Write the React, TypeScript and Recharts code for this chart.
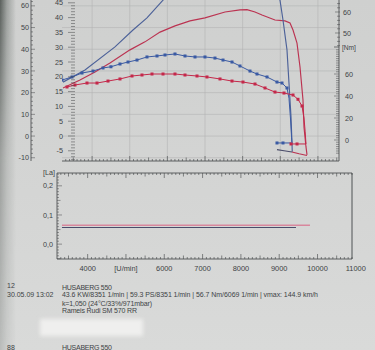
import React from "react";
import { ComposedChart, Line, XAxis, YAxis, CartesianGrid } from "recharts";

const FONT = "'Liberation Sans', Arial, Helvetica, sans-serif";
const INK = "#404345";
const GRID = "#b2b4b3";
const RED = "#bb3351";
const BLUE = "#4d6299";
const RED_DOT = "#c4284a";
const BLUE_DOT = "#3a5aa3";
const PINK = "#d8879d";
const NAVY = "#4a4c6a";

// run 12 (red) and run 88 (blue)
const power12 = [
  { rpm: 3227, kw: 16.2 }, { rpm: 3678, kw: 18.9 }, { rpm: 4077, kw: 21.6 }, { rpm: 4475, kw: 24.7 },
  { rpm: 5007, kw: 29.1 }, { rpm: 5405, kw: 31.8 }, { rpm: 5804, kw: 35.1 }, { rpm: 6202, kw: 37.2 },
  { rpm: 6601, kw: 38.9 }, { rpm: 6999, kw: 39.9 }, { rpm: 7531, kw: 41.9 }, { rpm: 7929, kw: 42.6 },
  { rpm: 8115, kw: 42.7 }, { rpm: 8328, kw: 41.9 }, { rpm: 8514, kw: 40.9 }, { rpm: 8859, kw: 39.2 },
  { rpm: 9125, kw: 38.9 }, { rpm: 9258, kw: 38.2 }, { rpm: 9338, kw: 35.8 }, { rpm: 9444, kw: 31.4 },
  { rpm: 9524, kw: 23.3 }, { rpm: 9603, kw: 12.2 }, { rpm: 9630, kw: 3.0 }, { rpm: 9683, kw: -3.7 },
  { rpm: 9710, kw: -6.4 },
];

const power88 = [
  { rpm: 3227, kw: 18.2 }, { rpm: 3811, kw: 22.3 }, { rpm: 4608, kw: 30.1 }, { rpm: 5086, kw: 35.8 },
  { rpm: 5458, kw: 39.9 }, { rpm: 5884, kw: 45.9 }, { rpm: 6250, kw: 50.5 }, { rpm: 6750, kw: 53.5 },
  { rpm: 7250, kw: 56 }, { rpm: 7700, kw: 57 }, { rpm: 8150, kw: 55 }, { rpm: 8600, kw: 51 },
  { rpm: 8992, kw: 45.9 }, { rpm: 9072, kw: 39.2 }, { rpm: 9178, kw: 29.1 }, { rpm: 9231, kw: 17.9 },
  { rpm: 9285, kw: 6.4 }, { rpm: 9311, kw: -2.4 }, { rpm: 9318, kw: -5.3 },
];

const coast88 = [{ rpm: 8912, kw: -4.6 }, { rpm: 9100, kw: -5.0 }, { rpm: 9311, kw: -5.4 }];
const coast12 = [{ rpm: 9311, kw: -5.4 }, { rpm: 9500, kw: -6.0 }, { rpm: 9710, kw: -6.6 }];

const torque88 = [
  { rpm: 3200, nm: 54.5 }, { rpm: 3466, nm: 57.3 }, { rpm: 3731, nm: 60.9 }, { rpm: 4024, nm: 62.7 },
  { rpm: 4289, nm: 65.5 }, { rpm: 4500, nm: 66.6 }, { rpm: 4741, nm: 69.1 }, { rpm: 4954, nm: 70.9 },
  { rpm: 5193, nm: 72.7 }, { rpm: 5458, nm: 75.5 }, { rpm: 5724, nm: 76.4 }, { rpm: 5937, nm: 77.3 },
  { rpm: 6202, nm: 78.2 }, { rpm: 6468, nm: 76.4 }, { rpm: 6734, nm: 75.5 }, { rpm: 6999, nm: 75.5 },
  { rpm: 7265, nm: 74.5 }, { rpm: 7478, nm: 72.7 }, { rpm: 7717, nm: 70.9 }, { rpm: 7929, nm: 67.3 },
  { rpm: 8195, nm: 62.7 }, { rpm: 8381, nm: 60.0 }, { rpm: 8647, nm: 57.3 }, { rpm: 8912, nm: 52.7 },
  { rpm: 9045, nm: 51.8 }, { rpm: 9178, nm: 47.3 },
];
const torque88Drop = [
  { rpm: 9178, nm: 47.3 }, { rpm: 9231, nm: 38 }, { rpm: 9270, nm: 20 }, { rpm: 9300, nm: 2 }, { rpm: 9311, nm: -2.7 },
];
const torque88Coast = [{ rpm: 8912, nm: -2.7 }, { rpm: 9072, nm: -2.7 }, { rpm: 9285, nm: -2.7 }];

const torque12 = [
  { rpm: 3333, nm: 48.2 }, { rpm: 3545, nm: 50.0 }, { rpm: 3864, nm: 51.8 }, { rpm: 4130, nm: 51.8 },
  { rpm: 4422, nm: 53.6 }, { rpm: 4741, nm: 55.5 }, { rpm: 5060, nm: 58.2 }, { rpm: 5325, nm: 59.1 },
  { rpm: 5591, nm: 60.0 }, { rpm: 5884, nm: 60.0 }, { rpm: 6202, nm: 60.0 }, { rpm: 6468, nm: 59.1 },
  { rpm: 6787, nm: 58.2 }, { rpm: 7052, nm: 57.3 }, { rpm: 7398, nm: 55.5 }, { rpm: 7717, nm: 53.6 },
  { rpm: 8009, nm: 52.7 }, { rpm: 8328, nm: 50.9 }, { rpm: 8594, nm: 47.3 }, { rpm: 8859, nm: 43.6 },
  { rpm: 9099, nm: 42.7 }, { rpm: 9338, nm: 40.9 }, { rpm: 9470, nm: 37 }, { rpm: 9577, nm: 30.9 },
];
const torque12Drop = [{ rpm: 9577, nm: 30.9 }, { rpm: 9630, nm: 20 }, { rpm: 9660, nm: 8 }, { rpm: 9683, nm: -3.6 }];
const torque12Coast = [{ rpm: 9285, nm: -3.6 }, { rpm: 9445, nm: -3.6 }, { rpm: 9683, nm: -3.6 }];

const lambda12 = [{ rpm: 3330, la: 0.065 }, { rpm: 6500, la: 0.065 }, { rpm: 9803, la: 0.065 }];
const lambda88 = [{ rpm: 3330, la: 0.057 }, { rpm: 6500, la: 0.057 }, { rpm: 9438, la: 0.057 }];

const range = (a: number, b: number, s: number) => {
  const out: number[] = [];
  for (let i = 0; a + i * s <= b + 1e-9; i++) out.push(Math.round((a + i * s) * 1000) / 1000);
  return out;
};

const upperRpmTicks = range(3300, 10500, 100);
const gridRpm = range(4000, 10000, 1000);
const psTicks = range(-10, 62, 2);
const psGrid = range(-10, 60, 10);
const kwTicks = range(-8, 45, 1);
const nmTicks = range(-12, 82, 2);
const nmLabels = [0, 20, 40, 60];
const psRightTicks = range(44, 64, 2);
const psRightLabels = [50, 60];
const lowerRpmTicks = [...range(3300, 10900, 100), 11000];
const laTicks = range(-0.05, 0.24, 0.01);

const UPPER_RPM: [number, number] = [3200, 10560];
const LOWER_RPM: [number, number] = [3200, 10900];
const KW: [number, number] = [-8.45, 45.95];
const PS: [number, number] = [-11.5, 62.7];
const NM: [number, number] = [-19.1, 127.3];
const PSR: [number, number] = [-10.95, 65.71];
const LA: [number, number] = [-0.051, 0.244];

const txt = { fontFamily: FONT, fontSize: 7.2, fill: INK } as const;

const XRuler = ({ x, y, payload, up, max, labels }: any) => {
  const v = payload.value;
  const len = v % 1000 === 0 ? 5 : v % 500 === 0 ? 3.5 : 2;
  const s = up ? -1 : 1;
  return (
    <g>
      {v <= max && <line x1={x} x2={x} y1={y} y2={y + s * len} stroke={INK} strokeWidth={0.6} />}
      {labels && v % 1000 === 0 && (
        <text x={x} y={y + 11.5} textAnchor="middle" {...txt} fontSize={7.4}>
          {v === 5000 ? "[U/min]" : v}
        </text>
      )}
    </g>
  );
};

const PsTick = ({ x, y, payload }: any) => {
  const v = payload.value;
  const major = v % 10 === 0;
  return (
    <g>
      <line x1={x} x2={x + (major ? 4 : 2)} y1={y} y2={y} stroke={INK} strokeWidth={0.5} />
      {major && <text x={x - 2} y={y + 2.6} textAnchor="end" {...txt}>{v}</text>}
    </g>
  );
};

const KwTick = ({ x, y, payload }: any) => {
  const v = payload.value;
  const major = v % 5 === 0;
  return (
    <g>
      <line x1={x + (major ? 6 : 9)} x2={x + 13} y1={y} y2={y} stroke={INK} strokeWidth={0.5} />
      {major && <text x={x + 1} y={y + 2.6} textAnchor="end" {...txt}>{v}</text>}
    </g>
  );
};

const RightTick = ({ x, y, payload, shown, dx }: any) => {
  const v = payload.value;
  const major = shown.includes(v);
  return (
    <g>
      <line x1={x} x2={x - (major ? 5 : 3)} y1={y} y2={y} stroke={INK} strokeWidth={0.5} />
      {major && <text x={x + dx} y={y + 2.6} textAnchor="start" {...txt}>{v}</text>}
    </g>
  );
};

const LaTick = ({ x, y, payload }: any) => {
  const v = payload.value;
  const c = Math.round(v * 100);
  const major = c % 10 === 0;
  const mid = c % 5 === 0;
  return (
    <g>
      <line x1={x} x2={x + (major ? 5 : mid ? 3.5 : 2)} y1={y} y2={y} stroke={INK} strokeWidth={0.5} />
      {major && <text x={x - 4} y={y + 2.6} textAnchor="end" {...txt}>{(c / 100).toFixed(1).replace(".", ",")}</text>}
    </g>
  );
};

const squareDot = (color: string, n = 0) => (p: any) => {
  if (n && p.index >= n - 1) return <g key={p.index} />;
  return <rect key={p.index} x={p.cx - 1.5} y={p.cy - 1.5} width={3} height={3} fill={color} />;
};

function UpperChart() {
  const common = { xAxisId: "rpm", type: "linear" as const, isAnimationActive: false };
  return (
    <ComposedChart width={375} height={165} margin={{ top: 0, right: 0, bottom: 0, left: 0 }}>
      <CartesianGrid xAxisId="rpm" yAxisId="ps" verticalValues={gridRpm} horizontalValues={psGrid}
        stroke={GRID} strokeWidth={0.6} />
      <XAxis xAxisId="rpm" type="number" dataKey="rpm" domain={UPPER_RPM} allowDataOverflow ticks={upperRpmTicks}
        interval={0} height={4} tickSize={0} tickMargin={0} tickLine={false} axisLine={{ stroke: INK, strokeWidth: 0.8 }}
        tick={<XRuler up max={UPPER_RPM[1]} />} />
      {/* the axis declared last sits next to the plot */}
      <YAxis yAxisId="kw" domain={KW} allowDataOverflow ticks={kwTicks} interval={0} width={31} tickSize={0}
        tickMargin={0} tickLine={false} axisLine={false} tick={<KwTick />} />
      <YAxis yAxisId="ps" domain={PS} allowDataOverflow ticks={psTicks} interval={0} width={31} tickSize={0}
        tickMargin={0} tickLine={false} axisLine={{ stroke: INK, strokeWidth: 0.8 }} tick={<PsTick />} />
      <YAxis yAxisId="psR" orientation="right" domain={PSR} allowDataOverflow ticks={psRightTicks} interval={0}
        width={35} tickSize={0} tickMargin={0} tickLine={false} axisLine={false}
        tick={<RightTick shown={psRightLabels} dx={3} />} />
      <YAxis yAxisId="nm" orientation="right" domain={NM} allowDataOverflow ticks={nmTicks} interval={0} width={1}
        tickSize={0} tickMargin={0} tickLine={false} axisLine={{ stroke: INK, strokeWidth: 0.8 }}
        tick={<RightTick shown={nmLabels} dx={6} />} />

      <Line {...common} yAxisId="kw" data={power12} dataKey="kw" stroke={RED} strokeWidth={1.15} dot={false} />
      <Line {...common} yAxisId="kw" data={power88} dataKey="kw" stroke={BLUE} strokeWidth={1.15} dot={false} />
      <Line {...common} yAxisId="kw" data={coast88} dataKey="kw" stroke={NAVY} strokeWidth={1.1} dot={false} />
      <Line {...common} yAxisId="kw" data={coast12} dataKey="kw" stroke={RED} strokeWidth={1.1} dot={false} />

      <Line {...common} yAxisId="nm" data={torque88} dataKey="nm" stroke={BLUE_DOT} strokeWidth={1} dot={squareDot(BLUE_DOT)} />
      <Line {...common} yAxisId="nm" data={torque88Drop} dataKey="nm" stroke={BLUE_DOT} strokeWidth={1} dot={false} />
      <Line {...common} yAxisId="nm" data={torque88Coast} dataKey="nm" stroke={BLUE_DOT} strokeWidth={1}
        dot={squareDot(BLUE_DOT, torque88Coast.length)} />
      <Line {...common} yAxisId="nm" data={torque12} dataKey="nm" stroke={RED_DOT} strokeWidth={1} dot={squareDot(RED_DOT)} />
      <Line {...common} yAxisId="nm" data={torque12Drop} dataKey="nm" stroke={RED_DOT} strokeWidth={1} dot={false} />
      <Line {...common} yAxisId="nm" data={torque12Coast} dataKey="nm" stroke={RED_DOT} strokeWidth={1}
        dot={squareDot(RED_DOT, torque12Coast.length)} />
    </ComposedChart>
  );
}

function LowerChart() {
  return (
    <ComposedChart width={375} height={110} margin={{ top: 8, right: 23, bottom: 0, left: 0 }}>
      <XAxis xAxisId="t" orientation="top" type="number" dataKey="rpm" domain={LOWER_RPM} allowDataOverflow
        ticks={lowerRpmTicks} interval={0} height={1} tickSize={0} tickMargin={0} tickLine={false}
        axisLine={{ stroke: INK, strokeWidth: 0.8 }} tick={<XRuler max={LOWER_RPM[1]} />} />
      <XAxis xAxisId="b" orientation="bottom" type="number" dataKey="rpm" domain={LOWER_RPM} allowDataOverflow
        ticks={lowerRpmTicks} interval={0} height={15} tickSize={0} tickMargin={0} tickLine={false}
        axisLine={{ stroke: INK, strokeWidth: 0.8 }} tick={<XRuler up labels max={LOWER_RPM[1]} />} />
      <YAxis yAxisId="la" domain={LA} allowDataOverflow ticks={laTicks} interval={0} width={57} tickSize={0}
        tickMargin={0} tickLine={false} axisLine={{ stroke: INK, strokeWidth: 0.8 }} tick={<LaTick />} />
      <Line xAxisId="b" yAxisId="la" type="linear" data={lambda12} dataKey="la" stroke={PINK} strokeWidth={1.4}
        dot={false} isAnimationActive={false} />
      <Line xAxisId="b" yAxisId="la" type="linear" data={lambda88} dataKey="la" stroke={NAVY} strokeWidth={1.1}
        dot={false} isAnimationActive={false} />
    </ComposedChart>
  );
}

export default function App() {
  return (
    <div style={{
      position: "absolute", left: 0, top: 0, width: 375, height: 350, overflow: "hidden",
      background: "linear-gradient(180deg, #cfd0cf 0%, #d4d5d4 55%, #d9dad9 100%)",
    }}>
      <div style={{
        position: "absolute", left: 0, top: 0, width: 16, height: 350,
        background: "linear-gradient(90deg, rgba(70,76,72,0.85) 0px, rgba(110,116,112,0.5) 7px, rgba(200,202,201,0) 16px)",
        WebkitMaskImage: "linear-gradient(180deg, #000 0%, rgba(0,0,0,0.45) 45%, rgba(0,0,0,0.25) 100%)",
        maskImage: "linear-gradient(180deg, #000 0%, rgba(0,0,0,0.45) 45%, rgba(0,0,0,0.25) 100%)",
      }} />
      <div style={{ position: "absolute", left: 0, top: 0 }}>
        <UpperChart />
      </div>
      <div style={{ position: "absolute", left: 0, top: 164 }}>
        <LowerChart />
      </div>
      <div style={{
        position: "absolute", left: 40, top: 319, width: 103, height: 17, background: "#efefee",
        filter: "blur(2px)",
      }} />
      <svg width={375} height={350} style={{ position: "absolute", left: 0, top: 0, pointerEvents: "none" }}>
        {/* right side of the lambda frame */}
        <line x1={352} x2={352} y1={173} y2={259} stroke={INK} strokeWidth={0.9} />
        <line x1={334} x2={339} y1={47} y2={47} stroke={INK} strokeWidth={0.7} />
        <text x={342} y={49.5} {...txt} fontSize={6.6}>[Nm]</text>
        <text x={43} y={174.5} {...txt}>[La]</text>
        <g {...txt} fontSize={7}>
          <text x={7} y={288}>12</text>
          <text x={7} y={296.5}>30.05.09</text>
          <text x={36} y={296.5}>13:02</text>
          <text x={62} y={289.5} textLength={50}>HUSABERG 550</text>
          <text x={62} y={297} textLength={256}>
            43.6 KW/8351 1/min | 59.3 PS/8351 1/min | 56.7 Nm/6069 1/min | vmax: 144.9 km/h
          </text>
          <text x={62} y={305.5} textLength={90}>k=1,050 (24°C/33%/971mbar)</text>
          <text x={62} y={313} textLength={75}>Rameis Rudi SM 570 RR</text>
          <text x={7} y={349.5}>88</text>
          <text x={62} y={349.5} textLength={50}>HUSABERG 550</text>
        </g>
      </svg>
    </div>
  );
}
